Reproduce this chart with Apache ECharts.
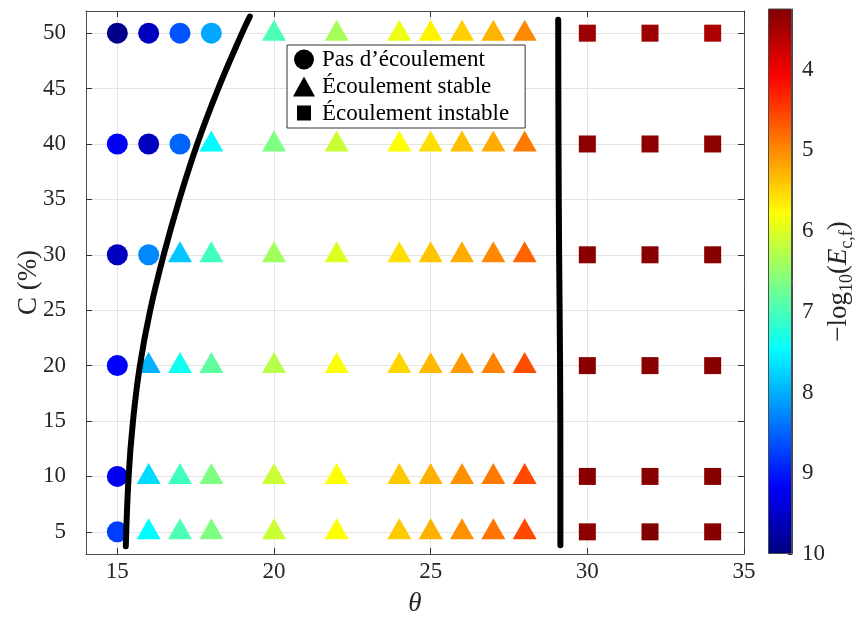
<!DOCTYPE html>
<html>
<head>
<meta charset="utf-8">
<script src="https://cdn.jsdelivr.net/npm/echarts@6/dist/echarts.min.js"></script>
<style>html,body{margin:0;padding:0;background:#fff}#c{width:862px;height:617px}</style>
</head>
<body>
<div id="c"></div>
<script>
// ---- data: [theta, C (%), -log10(Ec,f)] ----
const noFlow = [
  [15,50,9.93],[16,50,9.58],[17,50,8.6],[18,50,8.05],
  [15,40,9.21],[16,40,9.58],[17,40,8.49],
  [15,30,9.58],[16,30,8.26],
  [15,20,9.16],[15,10,9.26],[15,5,8.75]
];
const stableFlow = [
  [20,50,6.97],[22,50,6.37],[24,50,5.9],[25,50,5.7],[26,50,5.46],[27,50,5.28],[28,50,5.0],
  [18,40,7.48],[20,40,6.64],[22,40,6.13],[24,40,5.79],[25,40,5.57],[26,40,5.36],[27,40,5.22],[28,40,4.9],
  [17,30,7.84],[18,30,7.04],[20,30,6.41],[22,30,6.0],[24,30,5.57],[25,30,5.38],[26,30,5.24],[27,30,5.0],[28,30,4.75],
  [16,20,7.98],[17,20,7.37],[18,20,6.84],[20,20,6.26],[22,20,5.83],[24,20,5.5],[25,20,5.32],[26,20,5.12],[27,20,4.95],[28,20,4.6],
  [16,10,7.7],[17,10,7.04],[18,10,6.64],[20,10,6.13],[22,10,5.79],[24,10,5.42],[25,10,5.26],[26,10,5.05],[27,10,4.9],[28,10,4.58],
  [16,5,7.48],[17,5,6.97],[18,5,6.64],[20,5,6.13],[22,5,5.79],[24,5,5.42],[25,5,5.26],[26,5,5.05],[27,5,4.85],[28,5,4.58]
];
const unstableFlow = [
  [30,50,3.44],[32,50,3.44],[34,50,3.55],
  [30,40,3.33],[32,40,3.33],[34,40,3.33],
  [30,30,3.3],[32,30,3.3],[34,30,3.3],
  [30,20,3.3],[32,20,3.3],[34,20,3.3],
  [30,10,3.3],[32,10,3.3],[34,10,3.3],
  [30,5,3.33],[32,5,3.27],[34,5,3.3]
];
const leftBoundary = [
  [15.27,3.7],[15.36,10],[15.5,15],[15.72,20],[16.05,25],[16.48,30],[16.98,35],[17.55,40],[18.22,45],[18.98,50],[19.23,51.5]
];
const rightBoundary = [
  [29.14,3.8],[29.14,10],[29.13,20],[29.1,30],[29.08,40],[29.07,51.2]
];
const seriesNames = ['Pas d\u2019écoulement','Écoulement stable','Écoulement instable'];
const xTicks = [15,20,25,30,35];
const yTicks = [5,10,15,20,25,30,35,40,45,50];
const cbTicks = [4,5,6,7,8,9,10];
const cbRange = [3.25, 10];
const xRange = [14, 35];
const yRange = [3, 52];

const FONT = 'Liberation Serif';
const jetMinToMax = ['#800000','#ff0000','#ff8000','#ffff00','#80ff80','#00ffff','#0080ff','#0000ff','#000080'];

const chart = echarts.init(document.getElementById('c'), null, {renderer:'canvas'});
const axisCol = '#4d4d4d';
const labelStyle = {fontFamily: FONT, fontSize: 23, color: '#262626'};

const option = {
  animation: false,
  backgroundColor: '#fff',
  grid: [
    {left: 86, top: 11, width: 658, height: 543, containLabel: false, outerBoundsMode: 'none'},
    {left: 768, top: 9, width: 24, height: 545, containLabel: false, outerBoundsMode: 'none'}
  ],
  xAxis: [
    {type:'value', gridIndex:0, min:xRange[0], max:xRange[1], position:'bottom',
     axisLine:{show:true, onZero:false, lineStyle:{color:axisCol}},
     axisTick:{show:true, inside:true, length:6, customValues:xTicks, lineStyle:{color:'#333'}},
     axisLabel:Object.assign({customValues:xTicks, margin:6}, labelStyle),
     splitLine:{show:true, lineStyle:{color:'#e3e3e3'}},
     name:'θ', nameLocation:'middle', nameGap:36, nameMoveOverlap:false,
     nameTextStyle:{fontFamily:FONT, fontSize:27, fontStyle:'italic', color:'#262626'}},
    {type:'value', gridIndex:0, min:xRange[0], max:xRange[1], position:'top',
     axisLine:{show:true, onZero:false, lineStyle:{color:axisCol}},
     axisTick:{show:true, inside:true, length:6, customValues:xTicks, lineStyle:{color:'#333'}},
     axisLabel:{show:false}, splitLine:{show:false}},
    {type:'category', gridIndex:1, data:['cb'], show:false}
  ],
  yAxis: [
    {type:'value', gridIndex:0, min:yRange[0], max:yRange[1], position:'left',
     axisLine:{show:true, onZero:false, lineStyle:{color:axisCol}},
     axisTick:{show:true, inside:true, length:6, customValues:yTicks, lineStyle:{color:'#333'}},
     axisLabel:Object.assign({customValues:yTicks, margin:20}, labelStyle),
     splitLine:{show:true, lineStyle:{color:'#e3e3e3'}},
     name:'C (%)', nameLocation:'middle', nameGap:44, nameRotate:90, nameMoveOverlap:false,
     nameTextStyle:{fontFamily:FONT, fontSize:27, color:'#262626'}},
    {type:'value', gridIndex:0, min:yRange[0], max:yRange[1], position:'right',
     axisLine:{show:true, onZero:false, lineStyle:{color:axisCol}},
     axisTick:{show:true, inside:true, length:6, customValues:yTicks, lineStyle:{color:'#333'}},
     axisLabel:{show:false}, splitLine:{show:false}},
    {type:'value', gridIndex:1, min:cbRange[0], max:cbRange[1], inverse:true, position:'right',
     axisLine:{show:true, onZero:false, lineStyle:{color:axisCol}},
     axisTick:{show:true, inside:true, length:4, customValues:cbTicks, lineStyle:{color:'#333'}},
     axisLabel:Object.assign({customValues:cbTicks, margin:10}, labelStyle),
     splitLine:{show:false},
     name:'{n|\u2212log}{s|10}{n|(}{i|E}{s|c,f}{n|)}', nameLocation:'middle', nameGap:28, nameRotate:90, nameMoveOverlap:false,
     nameTextStyle:{color:'#262626', rich:{
       n:{fontFamily:FONT, fontSize:27, color:'#262626', lineHeight:38},
       i:{fontFamily:FONT, fontSize:27, fontStyle:'italic', color:'#262626', lineHeight:38},
       s:{fontFamily:FONT, fontSize:18, color:'#262626', lineHeight:22, padding:[16,0,0,0]}
     }}}
  ],
  visualMap: {
    type:'continuous', show:false, min:cbRange[0], max:cbRange[1], dimension:2,
    seriesIndex:[0,1,2], inRange:{color:jetMinToMax}
  },
  legend: {
    left:287, top:45, orient:'vertical', backgroundColor:'#fff',
    borderColor:'#333', borderWidth:1, borderRadius:0, padding:[3,16,3,6],
    itemGap:4, itemWidth:22, itemHeight:20, selectedMode:false,
    textStyle:{fontFamily:FONT, fontSize:23, color:'#000', padding:[0,0,0,2]},
    data:[
      {name:seriesNames[0], icon:'circle', itemStyle:{color:'#000'}},
      {name:seriesNames[1], icon:'triangle', itemStyle:{color:'#000'}},
      {name:seriesNames[2], icon:'path://M0,0M22,20M4,2L18,2L18,17L4,17Z', itemStyle:{color:'#000'}}
    ]
  },
  series: [
    {name:seriesNames[0], type:'scatter', xAxisIndex:0, yAxisIndex:0, symbol:'circle', symbolSize:21, itemStyle:{opacity:1}, data:noFlow, z:2},
    {name:seriesNames[1], type:'scatter', xAxisIndex:0, yAxisIndex:0, symbol:'triangle', symbolSize:[24,21], symbolOffset:[0,-3], itemStyle:{opacity:1}, data:stableFlow, z:2},
    {name:seriesNames[2], type:'scatter', xAxisIndex:0, yAxisIndex:0, symbol:'rect', symbolSize:17, itemStyle:{opacity:1}, data:unstableFlow, z:2},
    {type:'line', xAxisIndex:0, yAxisIndex:0, data:leftBoundary, smooth:0.4, showSymbol:false, symbol:'none',
     lineStyle:{color:'#000', width:6, cap:'round', join:'round'}, z:3},
    {type:'line', xAxisIndex:0, yAxisIndex:0, data:rightBoundary, smooth:0.4, showSymbol:false, symbol:'none',
     lineStyle:{color:'#000', width:6, cap:'round', join:'round'}, z:3},
    {type:'bar', xAxisIndex:2, yAxisIndex:2, data:[cbRange[1]], barWidth:'100%', silent:true,
     itemStyle:{borderColor:axisCol, borderWidth:1, color:new echarts.graphic.LinearGradient(0,0,0,1,[
       {offset:0, color:'#800000'},{offset:0.125, color:'#ff0000'},{offset:0.25, color:'#ff8000'},
       {offset:0.375, color:'#ffff00'},{offset:0.5, color:'#80ff80'},{offset:0.625, color:'#00ffff'},
       {offset:0.75, color:'#0080ff'},{offset:0.875, color:'#0000ff'},{offset:1, color:'#000080'}])}}
  ]
};
chart.setOption(option);
</script>
</body>
</html>
